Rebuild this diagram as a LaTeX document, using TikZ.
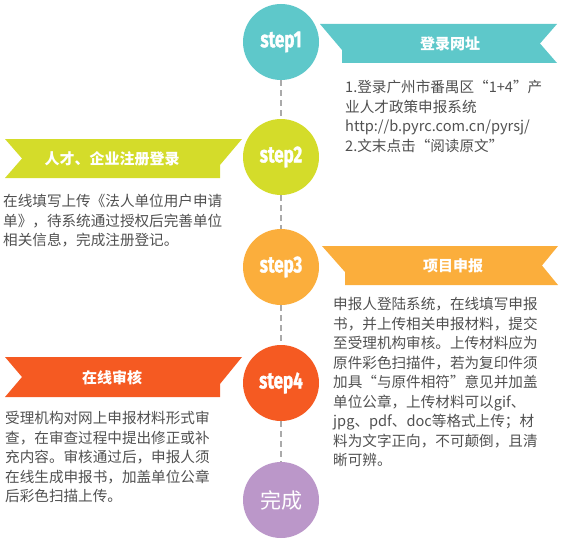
\documentclass[tikz,border=0pt]{standalone}
\usepackage{fontspec}
\setmainfont{Noto Sans CJK SC}
\newfontfamily\stepfont{Fira Sans}[FakeBold=1.6]
\definecolor{teal}{RGB}{94,200,202}
\definecolor{lime}{RGB}{212,220,42}
\definecolor{amber}{RGB}{251,174,60}
\definecolor{flame}{RGB}{245,90,34}
\definecolor{lilac}{RGB}{187,151,201}
\definecolor{bodygray}{RGB}{80,80,80}
\definecolor{linkgray}{RGB}{170,170,170}

\tikzset{
  stepnode/.style={circle,minimum size=76pt,inner sep=0pt,text=white,
    font=\stepfont\bfseries\fontsize{23}{23}\selectfont},
  ribbontitle/.style={inner sep=0pt,text=white,font=\bfseries\fontsize{15}{15}\selectfont},
  bodytext/.style={anchor=north west,inner sep=0pt,align=left,text=bodygray,
    font=\fontsize{14.6}{19.5}\selectfont},
  link/.style={color=linkgray,line width=2pt,dash pattern={on 6pt off 4pt}},
}

\begin{document}
\begin{tikzpicture}[x=1pt,y=1pt,yscale=-1,xscale=1]
\useasboundingbox (0,0) rectangle (562,543);

%Shape: Circle
\node[stepnode,fill=teal] (s1) at (281,42) {\scalebox{0.74}[1]{step1}};
%Shape: Circle
\node[stepnode,fill=lime] (s2) at (281,157) {\scalebox{0.74}[1]{step2}};
%Shape: Circle
\node[stepnode,fill=amber] (s3) at (281,267) {\scalebox{0.74}[1]{step3}};
%Shape: Circle
\node[stepnode,fill=flame] (s4) at (281,383) {\scalebox{0.74}[1]{step4}};
%Shape: Circle
\node[stepnode,fill=lilac,font=\fontsize{21}{21}\selectfont] (done) at (281,500) {完成};

%Straight Lines
\draw[link] (s1) -- (s2);
\draw[link] (s2) -- (s3);
\draw[link] (s3) -- (s4);
\draw[link] (s4) -- (done);

%Shape: Ribbon
\fill[teal] (320,24) -- (557,24) -- (540,43.5) -- (557,63) -- (342,63) -- (342,50) -- cycle;
%Shape: Ribbon
\fill[lime] (5,139) -- (242,139) -- (220,165) -- (220,178) -- (5,178) -- (22,158.5) -- cycle;
%Shape: Ribbon
\fill[amber] (322,246) -- (558,246) -- (542,265.5) -- (558,285) -- (345,285) -- (345,272) -- cycle;
%Shape: Ribbon
\fill[flame] (5,357) -- (242,357) -- (220,384) -- (220,397) -- (5,397) -- (22,377) -- cycle;

% Text Node
\node[ribbontitle] (t1) at (450,44) {登录网址};
% Text Node
\node[ribbontitle] (t2) at (112,159) {人才、企业注册登录};
% Text Node
\node[ribbontitle] (t3) at (453,266) {项目申报};
% Text Node
\node[ribbontitle] (t4) at (112,378) {在线审核};

% Text Node
\node[bodytext] (b1) at (345,80) {1.登录广州市番禺区“1+4”产\\业人才政策申报系统\\http://b.pyrc.com.cn/pyrsj/\\2.文末点击“阅读原文”};
% Text Node
\node[bodytext] (b2) at (3,194) {在线填写上传《法人单位用户申请\\单》，待系统通过授权后完善单位\\相关信息，完成注册登记。};
% Text Node
\node[bodytext] (b3) at (333,297) {申报人登陆系统，在线填写申报\\书，并上传相关申报材料，提交\\至受理机构审核。上传材料应为\\原件彩色扫描件，若为复印件须\\加具“与原件相符”意见并加盖\\单位公章，上传材料可以gif、\\jpg、pdf、doc等格式上传；材\\料为文字正向，不可颠倒，且清\\晰可辨。};
% Text Node
\node[bodytext] (b4) at (5,411) {受理机构对网上申报材料形式审\\查，在审查过程中提出修正或补\\充内容。审核通过后，申报人须\\在线生成申报书，加盖单位公章\\后彩色扫描上传。};

\end{tikzpicture}
\end{document}
